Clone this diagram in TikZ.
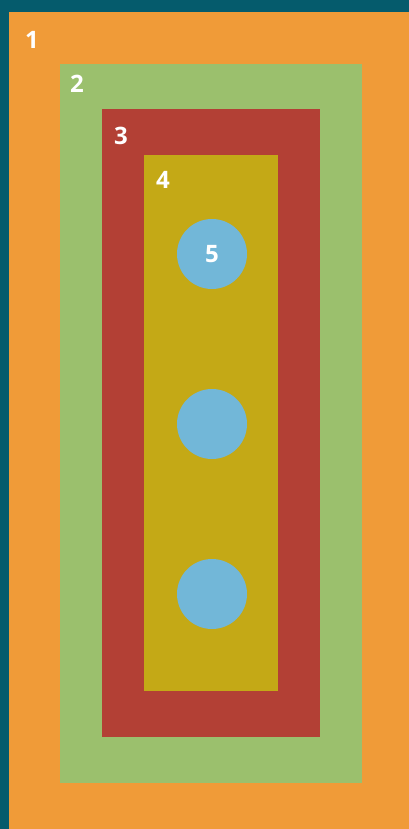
\documentclass[tikz,border=0pt]{standalone}
\usepackage{fontspec}
\setmainfont{Open Sans}
\definecolor{teal0}{HTML}{055B6C}
\definecolor{orange0}{HTML}{F09B38}
\definecolor{green0}{HTML}{9BC06D}
\definecolor{red0}{HTML}{B34035}
\definecolor{yellow0}{HTML}{C4A916}
\definecolor{blue0}{HTML}{72B7D8}
\tikzset{
  lbl/.style={text=white, font=\fontsize{24}{28}\selectfont\bfseries, inner sep=0pt},
  dot/.style={circle, fill=blue0, minimum size=70pt, inner sep=0pt}
}
\begin{document}
\begin{tikzpicture}[x=1pt,y=-1pt]
\useasboundingbox (0,0) rectangle (409,829);
\fill[teal0] (0,0) rectangle (409,829);
\fill[orange0] (9,12) rectangle (409,829);
\fill[green0] (60,64) rectangle (362,783);
\fill[red0] (102,109) rectangle (320,737);
\fill[yellow0] (144,155) rectangle (278,691);
\node[lbl] (l1) at (32,40) {1};
\node[lbl] (l2) at (77,84) {2};
\node[lbl] (l3) at (121,136) {3};
\node[lbl] (l4) at (163,180) {4};
\node[dot] (c1) at (212,254) {};
\node[dot] (c2) at (212,424) {};
\node[dot] (c3) at (212,594) {};
\node[lbl] (l5) at (c1) {5};
\end{tikzpicture}
\end{document}
